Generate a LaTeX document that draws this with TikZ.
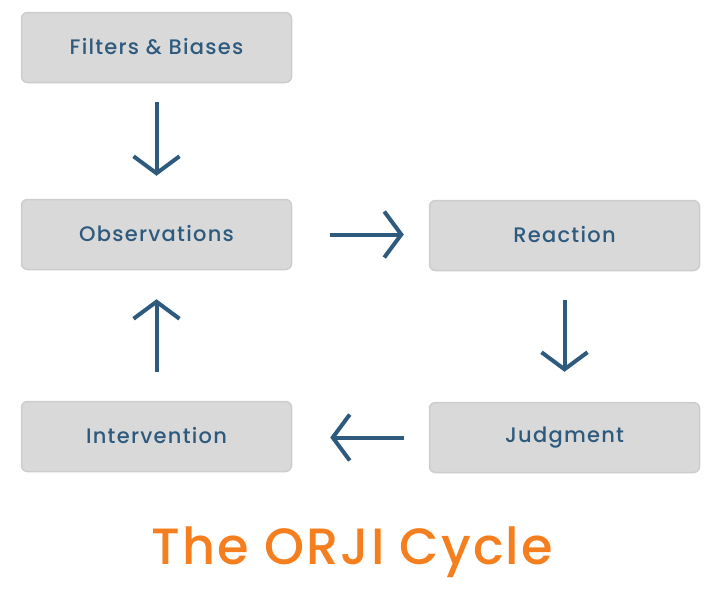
\documentclass[tikz,border=0pt]{standalone}
\usepackage{fontspec}
\setmainfont{Poppins}[UprightFont={* Medium},LetterSpace=6]
\usetikzlibrary{arrows.meta}
\definecolor{boxfill}{HTML}{D9D9D9}
\definecolor{boxline}{HTML}{CDCDCD}
\definecolor{txtblue}{HTML}{2E5A7E}
\definecolor{titleorange}{HTML}{F57E1E}
\begin{document}
\begin{tikzpicture}[x=1pt,y=-1pt,
  stage/.style={draw=boxline,line width=1.5pt,fill=boxfill,rounded corners=6pt,
    minimum width=270pt,minimum height=70pt,text=txtblue,font=\fontsize{21}{24}\selectfont},
  flow/.style={draw=txtblue,line width=4pt,-{Straight Barb[length=17pt,width=46pt,line width=4pt]}}]
\useasboundingbox (0,0) rectangle (720,600);
\node[stage] (filt) at (156.5,47.5) {\raisebox{2.5pt}{Filters \& Biases}};
\node[stage] (obs) at (156.5,234.5) {\raisebox{2.5pt}{Observations}};
\node[stage] (reac) at (564.5,235.5) {\raisebox{2.5pt}{Reaction}};
\node[stage] (judg) at (564.5,437.5) {\raisebox{2.5pt}{Judgment}};
\node[stage] (intv) at (156.5,436.5) {\raisebox{2.5pt}{Intervention}};
% the cycle
\draw[flow,shorten <=19pt,shorten >=23pt] (filt) -- (obs);
\draw[flow,shorten <=38pt,shorten >=25pt] (obs) -- (obs-|reac.west);
\draw[flow,shorten <=29pt,shorten >=30pt] (reac) -- (judg);
\draw[flow,shorten <=25pt,shorten >=38pt] (judg) -- (judg-|intv.east);
\draw[flow,shorten <=29pt,shorten >=29pt] (intv) -- (obs);
\node[text=titleorange,font=\fontsize{51}{60}\selectfont\addfontfeature{LetterSpace=4}] (title) at (352,552) {The ORJI Cycle};
\end{tikzpicture}
\end{document}
